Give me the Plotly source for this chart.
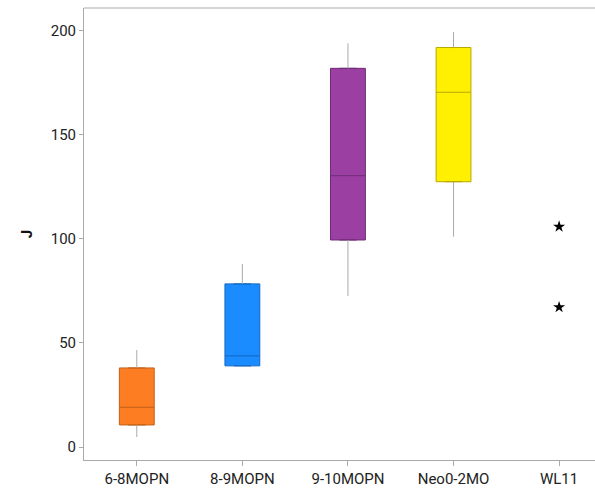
import plotly.graph_objects as go

categories = ["6-8MOPN", "8-9MOPN", "9-10MOPN", "Neo0-2MO"]
q1 = [10.6, 39.0, 99.5, 127.5]
median = [19.1, 43.8, 130.4, 170.5]
q3 = [38.0, 78.4, 182.0, 192.0]
whisker_low = [4.8, 39.0, 72.6, 101.1]
whisker_high = [46.6, 88.0, 194.0, 199.4]
fill_colors = ["#FD7E22", "#1A8CFF", "#9B3FA3", "#FFEF00"]
line_colors = ["#C2601A", "#1466C0", "#6E2C74", "#B8A800"]

outlier_cat = "WL11"
outlier_values = [105.9, 67.2]

all_cats = categories + [outlier_cat]

fig = go.Figure()

for i, c in enumerate(categories):
    fig.add_trace(go.Scatter(
        x=[c, c, None, c, c],
        y=[q3[i], whisker_high[i], None, q1[i], whisker_low[i]],
        mode="lines", line=dict(color="#AAAAAA", width=1),
        showlegend=False, hoverinfo="skip"))
    fig.add_trace(go.Box(
        x=[c], q1=[q1[i]], median=[median[i]], q3=[q3[i]],
        lowerfence=[q1[i]], upperfence=[q3[i]],
        fillcolor=fill_colors[i], line=dict(color=line_colors[i], width=1),
        width=0.33, showlegend=False, boxpoints=False))

fig.add_trace(go.Scatter(
    x=[outlier_cat] * len(outlier_values), y=outlier_values, mode="markers",
    marker=dict(symbol="star", color="black", size=9),
    showlegend=False))

font_family = "Liberation Sans Narrow, Roboto, Arial, sans-serif"

fig.update_layout(
    width=595, height=495,
    margin=dict(l=84, r=0, t=8, b=35),
    plot_bgcolor="white", paper_bgcolor="white",
    font=dict(family=font_family, size=15, color="#222222"),
    xaxis=dict(
        type="category", categoryorder="array", categoryarray=all_cats,
        range=[-0.5, 4.34], showline=True, linecolor="#AAAAAA", linewidth=1,
        ticks="outside", ticklen=5, tickcolor="#AAAAAA",
        showgrid=False, zeroline=False),
    yaxis=dict(
        range=[-6.25, 211], showline=True, linecolor="#AAAAAA", linewidth=1,
        ticks="outside", ticklen=4, tickcolor="#AAAAAA",
        tickvals=[0, 50, 100, 150, 200],
        showgrid=False, zeroline=False,
        title=dict(text="<b>J</b>", standoff=14, font=dict(size=15, color="#111111"))),
    shapes=[dict(type="line", xref="paper", yref="paper", x0=0, x1=1, y0=1, y1=1,
                 line=dict(color="#AAAAAA", width=1))],
)

fig.write_html("out.html")
